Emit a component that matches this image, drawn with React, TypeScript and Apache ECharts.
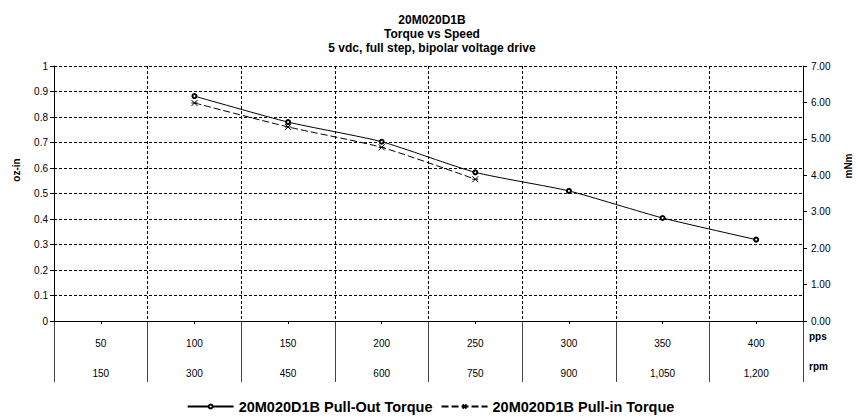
import React, { useEffect, useRef } from "react";
import * as echarts from "echarts";

const ppsLabels = ["50", "100", "150", "200", "250", "300", "350", "400"];
const rpmLabels = ["150", "300", "450", "600", "750", "900", "1,050", "1,200"];
const pullOut = [null, 0.882, 0.78, 0.703, 0.583, 0.51, 0.404, 0.319];
const pullIn = [null, 0.855, 0.761, 0.681, 0.556, null, null, null];
const titleLines = ["20M020D1B", "Torque vs Speed", "5 vdc, full step, bipolar voltage drive"];
const seriesNames = ["20M020D1B Pull-Out Torque", "20M020D1B Pull-in Torque"];
const rowNames = ["rpm", "pps"];

const FONT = "Liberation Sans";
const asterisk = "path://M0,0L10,10M0,10L10,0M0,5L10,5";

export default function App() {
  const ref = useRef<HTMLDivElement>(null);
  useEffect(() => {
    const chart = echarts.init(ref.current!, null, { renderer: "svg" });
    const dash = { color: "#000", width: 1, type: [3, 2] as any };
    chart.setOption({
      animation: false,
      backgroundColor: "#fff",
      textStyle: { fontFamily: FONT, color: "#000" },
      title: {
        text: titleLines.join("\n"),
        left: 427,
        textAlign: "center",
        top: 8,
        textStyle: { fontFamily: FONT, fontSize: 12, fontWeight: "bold", lineHeight: 14, color: "#000" },
      },
      legend: {
        top: 399,
        left: "center",
        padding: 0,
        itemWidth: 46,
        itemHeight: 5,
        itemGap: 8,
        textStyle: { fontFamily: FONT, fontSize: 14.5, fontWeight: "bold", color: "#000" },
        data: seriesNames,
      },
      graphic: [
        {
          type: "text",
          x: 16,
          y: 170,
          rotation: Math.PI / 2,
          style: { text: "oz-in", fontFamily: FONT, fontSize: 10, fontWeight: "bold", fill: "#000", align: "center", verticalAlign: "middle" },
        },
        {
          type: "text",
          x: 848,
          y: 166,
          rotation: Math.PI / 2,
          style: { text: "mNm", fontFamily: FONT, fontSize: 10, fontWeight: "bold", fill: "#000", align: "center", verticalAlign: "middle" },
        },
      ],
      grid: [
        { left: 54, right: 58, top: 66, bottom: 99 },
        { left: 54, right: 58, top: 321, height: 61 },
      ],
      xAxis: [
        {
          gridIndex: 0,
          type: "category",
          data: ppsLabels,
          boundaryGap: true,
          axisLine: { show: true, lineStyle: { color: "#000", width: 1 } },
          axisTick: { show: true, alignWithLabel: true, length: 3, lineStyle: { color: "#000" } },
          axisLabel: { show: true, margin: 17, fontFamily: FONT, fontSize: 10, color: "#000" },
          splitLine: { show: true, lineStyle: dash },
        },
        {
          gridIndex: 0,
          type: "category",
          position: "bottom",
          data: rpmLabels,
          boundaryGap: true,
          axisLine: { show: false },
          axisTick: { show: false },
          axisLabel: { show: true, margin: 47, fontFamily: FONT, fontSize: 10, color: "#000" },
          splitLine: { show: false },
        },
        {
          gridIndex: 1,
          type: "category",
          data: ppsLabels,
          boundaryGap: true,
          axisLine: { show: false },
          axisTick: { show: false },
          axisLabel: { show: false },
          splitLine: { show: true, interval: 0, lineStyle: { color: "#444", width: 1, type: "solid" } },
        },
      ],
      yAxis: [
        {
          gridIndex: 0,
          type: "value",
          min: 0,
          max: 1,
          interval: 0.1,
          axisLine: { show: true, lineStyle: { color: "#000", width: 1 } },
          axisTick: { show: true, length: 4, lineStyle: { color: "#000" } },
          axisLabel: { margin: 6, fontFamily: FONT, fontSize: 10, color: "#000" },
          splitLine: { show: true, lineStyle: dash },
        },
        {
          gridIndex: 0,
          type: "value",
          position: "right",
          min: 0,
          max: 7,
          interval: 1,
          axisLine: { show: true, lineStyle: { color: "#000", width: 1 } },
          axisTick: { show: true, length: 4, lineStyle: { color: "#000" } },
          axisLabel: { margin: 8, fontFamily: FONT, fontSize: 10, color: "#000", formatter: (v: number) => v.toFixed(2) },
          splitLine: { show: false },
        },
        {
          gridIndex: 1,
          type: "category",
          position: "right",
          data: rowNames,
          axisLine: { show: false },
          axisTick: { show: false },
          axisLabel: { show: true, margin: 6, fontFamily: FONT, fontSize: 10, fontWeight: "bold", color: "#000" },
          splitLine: { show: false },
        },
      ],
      series: [
        {
          name: seriesNames[0],
          type: "line",
          xAxisIndex: 0,
          yAxisIndex: 0,
          data: pullOut,
          smooth: 0.2,
          symbol: "emptyCircle",
          symbolSize: 4,
          showSymbol: true,
          lineStyle: { color: "#000", width: 1 },
          itemStyle: { color: "#000", borderColor: "#000", borderWidth: 1 },
        },
        {
          name: seriesNames[1],
          type: "line",
          xAxisIndex: 0,
          yAxisIndex: 0,
          data: pullIn,
          smooth: 0.2,
          symbol: asterisk,
          symbolSize: 6,
          showSymbol: true,
          lineStyle: { color: "#000", width: 1, type: [7, 3] },
          itemStyle: { color: "#000", borderColor: "#000", borderWidth: 1 },
        },
      ],
    });
    return () => chart.dispose();
  }, []);
  return <div ref={ref} style={{ position: "fixed", left: 0, top: 0, width: 861, height: 420 }} />;
}
